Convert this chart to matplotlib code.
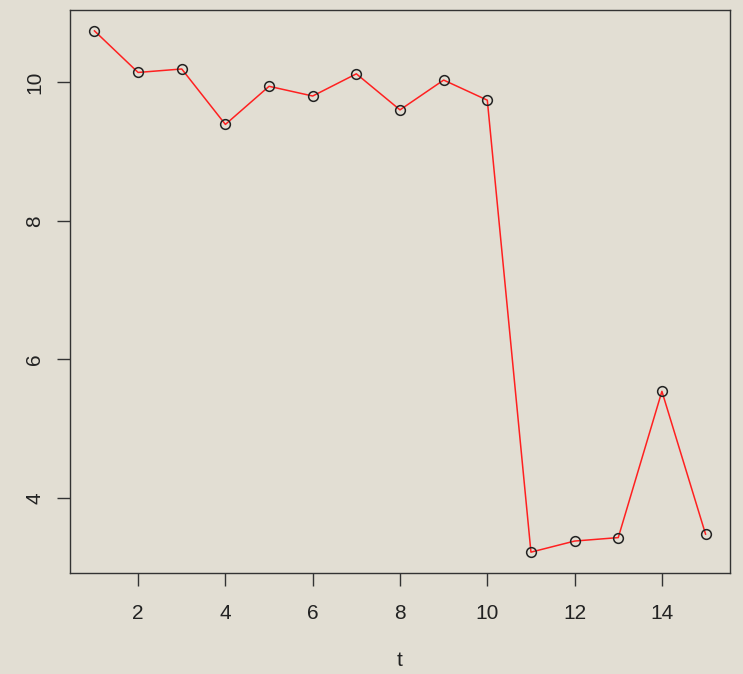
import matplotlib.pyplot as plt
import numpy as np

# series plotted against t = 1..15
t = np.arange(1, 16)
y = [10.74, 10.14, 10.19, 9.39, 9.94, 9.80, 10.12, 9.60, 10.03, 9.74,
     3.22, 3.38, 3.43, 5.54, 3.48]
xticks = [2, 4, 6, 8, 10, 12, 14]
yticks = [4, 6, 8, 10]

bg = '#e2ded3'
plt.rcParams['font.family'] = ['Liberation Sans', 'DejaVu Sans']

fig = plt.figure(figsize=(7.43, 6.74), dpi=100, facecolor=bg)
ax = fig.add_axes([70 / 743, 101 / 674, 660 / 743, 563 / 674], facecolor=bg)

ax.plot(t, y, color='#ff2020', lw=1.1, zorder=2)
ax.plot(t, y, 'o', ms=7, mfc='none', mec='#222222', mew=1.1, zorder=3)

# R-style 4% padding on both axes
pad_x = 0.04 * (t.max() - t.min())
pad_y = 0.04 * (max(y) - min(y))
ax.set_xlim(t.min() - pad_x, t.max() + pad_x)
ax.set_ylim(min(y) - pad_y, max(y) + pad_y)

ax.set_xticks(xticks)
ax.set_yticks(yticks)
ax.tick_params(direction='out', length=9.5, width=1, color='#333333',
               labelsize=15, labelcolor='#222222')
ax.tick_params(axis='x', pad=13)
ax.tick_params(axis='y', pad=9)
for lab in ax.get_yticklabels():
    lab.set_rotation(90)
    lab.set_va('center')
for sp in ax.spines.values():
    sp.set_color('#333333')
    sp.set_linewidth(1)

ax.set_xlabel('t', fontsize=15, color='#222222', labelpad=20)

fig.savefig('out.png', dpi=100, facecolor=bg)
